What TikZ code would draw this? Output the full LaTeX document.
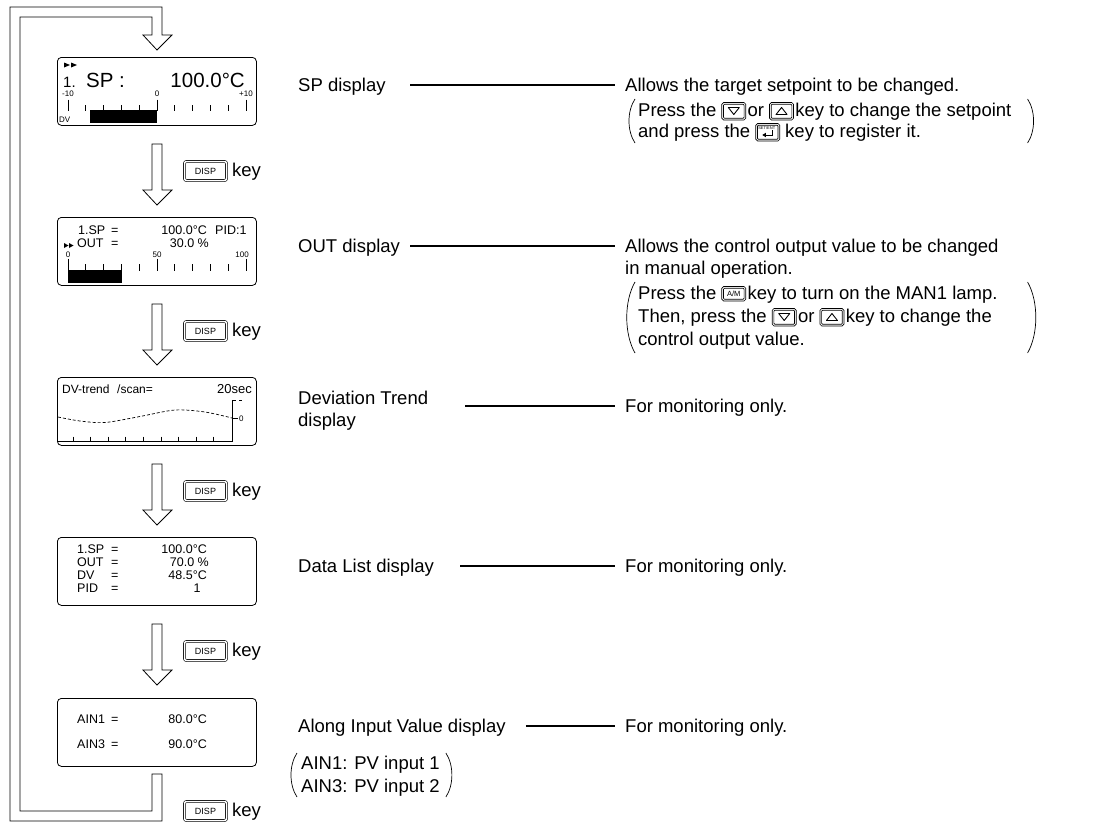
\documentclass[tikz,border=0pt]{standalone}
\usepackage{fontspec}
\setmainfont{Liberation Sans}
\usetikzlibrary{calc}
\newcommand{\fsz}[1]{\fontsize{#1}{#1}\selectfont}
\newcommand{\kfr}[3]{\tikz[baseline=0pt,x=1pt,y=1pt,line width=0.65pt]{\draw[rounded corners=1.8pt](0,#1)rectangle(24,#2);\draw[rounded corners=1pt](1.7,#1+1.7)rectangle(22.3,#2-1.7);#3}}
\newcommand{\kdn}{\kfr{-4}{13.5}{\draw[line width=0.9pt,line join=round](6.5,8.5)--(17.5,8.5)--(12,1.5)--cycle;}}
\newcommand{\kup}{\kfr{-4}{13.5}{\draw[line width=0.9pt,line join=round](6.5,1.5)--(17.5,1.5)--(12,8.5)--cycle;}}
\newcommand{\kam}{\kfr{-2}{12.5}{\node[anchor=center,inner sep=0pt,font=\fsz{7.5}] (kamt) at (12,5.2) {A/M};}}
\newcommand{\kent}{\kfr{-4}{13.5}{\node[anchor=center,inner sep=0pt,font=\fsz{4}] (kentt) at (11,9.3) {SET/ENT};\draw[line width=0.8pt](16.5,7)--(16.5,2)--(9.5,2);\fill(6.5,2)--(10,4.2)--(10,-0.2)--cycle;}}
\begin{document}
\begin{tikzpicture}[x=1pt,y=-1pt,
 lcd/.style={draw,line width=0.8pt,rounded corners=4pt,anchor=north west,minimum width=199pt,minimum height=68pt,inner sep=0pt},
 txt/.style={inner sep=0pt,anchor=base west,font=\fsz{18.5}},
 lt/.style={inner sep=0pt,anchor=base west,font=\fsz{12.5}},
 ltr/.style={lt,anchor=base east},
 sm/.style={inner sep=0pt,anchor=base,font=\fsz{8}},
 lead/.style={line width=1.3pt},
 flow/.style={line width=0.8pt,fill=white,line join=miter},
 disp/.style={draw,rounded corners=2pt,double,double distance=1.5pt,line width=0.6pt,minimum width=42pt,minimum height=19pt,inner sep=0pt,font=\fsz{9}},
 paren/.style={line width=0.7pt},
 tk/.style={line width=0.7pt}]
\useasboundingbox (0,0) rectangle (1106,827);
% loop
\draw[flow] (152,774)--(162,774)--(162,821)--(10,821)--(10,7)--(162,7)--(162,35)--(172,35)--(157,50)--(143,35)--(152,35)--(152,17)--(20,17)--(20,811)--(152,811)--cycle;
\foreach \yy in {144,304,464,624}
 \draw[flow] (152,\yy)--(162,\yy)--(162,\yy+46)--(172,\yy+46)--(157,\yy+61)--(143,\yy+46)--(152,\yy+46)--cycle;
% DISP keys
\foreach \yy in {171,331,491,651,811}{
 \node[disp] (k\yy) at (205.5,\yy) {DISP};
 \node[txt] (kt\yy) at (232,\yy+5.5) {key};
}
% displays
\node[lcd] (d1) at (57,57) {};
\node[lcd] (d2) at (57,217) {};
\node[lcd] (d3) at (57,377) {};
\node[lcd] (d4) at (57,537) {};
\node[lcd] (d5) at (57,698) {};
% display 1
\fill (64,62.5)--(70,65)--(64,67.5)--cycle;
\fill (71,62.5)--(77,65)--(71,67.5)--cycle;
\node[lt,font=\fsz{15}] (a1) at (63,87) {1.};
\node[lt,font=\fsz{20.5}] (a2) at (86,87) {SP :};
\node[ltr,font=\fsz{20.5}] (a3) at (245,87) {100.0°C};
\node[sm] (a4) at (68,96) {-10};
\node[sm] (a5) at (157,96) {0};
\node[sm,anchor=base east] (a6) at (253,96) {+10};
\foreach \i in {1,...,9} \draw[tk] (68+17.8*\i,105)--(68+17.8*\i,110.5);
\foreach \xx in {68,157,246} \draw[tk] (\xx,99.5)--(\xx,110.5);
\fill (90,110) rectangle (157,123);
\node[sm,anchor=base west] (a7) at (59,122) {DV};
% display 2
\node[lt] (b1) at (78,234) {1.SP};
\node[lt] (b2) at (111,234) {=};
\node[ltr] (b3) at (207,234) {100.0°C};
\node[lt] (b4) at (215,234) {PID:1};
\fill (64,243)--(68.5,245.5)--(64,248)--cycle;
\fill (69,243)--(73.5,245.5)--(69,248)--cycle;
\node[lt] (b5) at (77,247) {OUT};
\node[lt] (b6) at (111,247) {=};
\node[ltr] (b7) at (209,247) {30.0 \%};
\node[sm] (b8) at (68,257) {0};
\node[sm] (b9) at (157,257) {50};
\node[sm,anchor=base east] (b10) at (249,257) {100};
\foreach \i in {1,...,9} \draw[tk] (68+17.8*\i,264)--(68+17.8*\i,270.5);
\foreach \xx in {68,157,246} \draw[tk] (\xx,258.5)--(\xx,270.5);
\fill (68,270) rectangle (122,283);
% display 3
\node[lt,font=\fsz{12}] (c1) at (62,393) {DV-trend};
\node[lt,font=\fsz{12}] (c2) at (117,393) {/scan=};
\node[ltr,font=\fsz{13}] (c3) at (252,393) {20sec};
\draw[tk] (232,400)--(232,442);
\draw[tk] (232,400)--(236,400);
\draw[tk] (239,400)--(242,400);
\draw[tk] (232,418)--(238,418);
\node[sm,anchor=base west] (c4) at (239,421) {0};
\draw[tk,dash pattern=on 3pt off 2pt] plot[smooth] coordinates {(58,417) (80,421) (105,422.5) (140,416.5) (175,410) (205,412) (232,418)};
\draw[tk] (58,441)--(232,441);
\foreach \i in {0,...,8} \draw[tk] (73+17.6*\i,436.5)--(73+17.6*\i,441);
% display 4
\node[lt] (e1) at (77,553) {1.SP};
\node[lt] (e2) at (111,553) {=};
\node[ltr] (e3) at (207,553) {100.0°C};
\node[lt] (e4) at (77,566.5) {OUT};
\node[lt] (e5) at (111,566.5) {=};
\node[ltr] (e6) at (209,566.5) {70.0 \%};
\node[lt] (e7) at (77,579.5) {DV};
\node[lt] (e8) at (111,579.5) {=};
\node[ltr] (e9) at (207,579.5) {48.5°C};
\node[lt] (e10) at (77,592.5) {PID};
\node[lt] (e11) at (111,592.5) {=};
\node[lt,anchor=base] (e12) at (197,592.5) {1};
% display 5
\node[lt] (f1) at (77,723) {AIN1};
\node[lt] (f2) at (111,723) {=};
\node[ltr] (f3) at (207,723) {80.0°C};
\node[lt] (f4) at (77,748) {AIN3};
\node[lt] (f5) at (111,748) {=};
\node[ltr] (f6) at (207,748) {90.0°C};
% labels
\node[txt] (s1) at (298,91) {SP display};
\node[txt] (s2) at (298,252) {OUT display};
\node[txt] (s3) at (298,404) {Deviation Trend};
\node[txt] (s3b) at (298,426) {display};
\node[txt] (s4) at (298,572) {Data List display};
\node[txt] (s5) at (298,732) {Along Input Value display};
\node[txt] (s5a) at (301,769) {AIN1: PV input 1};
\node[txt] (s5b) at (301,792) {AIN3: PV input 2};
% descriptions
\node[txt] (t1) at (625,91) {Allows the target setpoint to be changed.};
\node[txt] (p1a) at (638,116) {Press the \kdn\kern1.5pt or \kup\kern1.5pt key to change the setpoint};
\node[txt] (p1b) at (638,137) {and press the \kent\ key to register it.};
\node[txt] (t2) at (625,252) {Allows the control output value to be changed};
\node[txt] (t2b) at (625,274) {in manual operation.};
\node[txt] (p2a) at (638,299) {Press the \kam\kern1.5pt key to turn on the MAN1 lamp.};
\node[txt] (p2b) at (638,322) {Then, press the \kdn\kern1.5pt or \kup\kern1.5pt key to change the};
\node[txt] (p2c) at (638,345) {control output value.};
\node[txt] (t3) at (625,412) {For monitoring only.};
\node[txt] (t4) at (625,572) {For monitoring only.};
\node[txt] (t5) at (625,732) {For monitoring only.};
% leaders
\coordinate (l1) at (410,85);
\coordinate (l2) at (410,246);
\coordinate (l3) at (465,406);
\coordinate (l4) at (460,566);
\coordinate (l5) at ($(s5.east |- 0,726)+(20,0)$);
\draw[lead] (l1) -- ($(l1 -| t1.west)+(-10,0)$);
\draw[lead] (l2) -- ($(l2 -| t2.west)+(-10,0)$);
\draw[lead] (l3) -- ($(l3 -| t3.west)+(-10,0)$);
\draw[lead] (l4) -- ($(l4 -| t4.west)+(-10,0)$);
\draw[lead] (l5) -- ($(l5 -| t5.west)+(-10,0)$);
% parentheses
\coordinate (rp) at ($(p1a.east)+(16,0)$);
\draw[paren] (635,99) .. controls (627,111) and (627,131) .. (635,143);
\draw[paren] (rp |- 0,99) .. controls ($(rp |- 0,111)+(8,0)$) and ($(rp |- 0,131)+(8,0)$) .. (rp |- 0,143);
\draw[paren] (635,282) .. controls (624,301) and (624,334) .. (635,353);
\draw[paren] (rp |- 0,282) .. controls ($(rp |- 0,301)+(11,0)$) and ($(rp |- 0,334)+(11,0)$) .. (rp |- 0,353);
\coordinate (ra) at ($(s5a.east)+(6,0)$);
\draw[paren] (297,753) .. controls (289,765) and (289,785) .. (297,797);
\draw[paren] (ra |- 0,753) .. controls ($(ra |- 0,765)+(8,0)$) and ($(ra |- 0,785)+(8,0)$) .. (ra |- 0,797);
\end{tikzpicture}
\end{document}
